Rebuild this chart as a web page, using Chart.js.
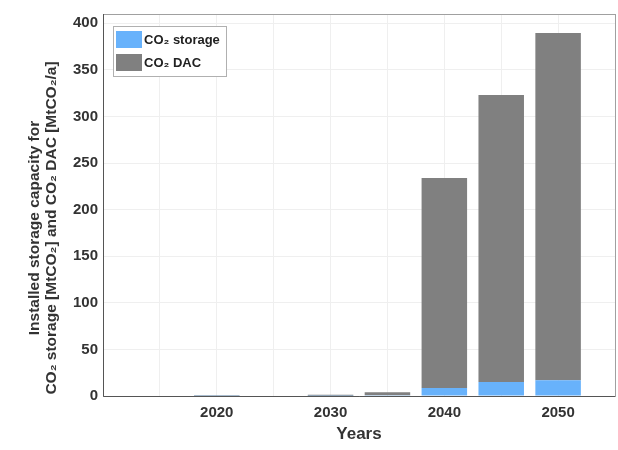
<!DOCTYPE html>
<html>
<head>
<meta charset="utf-8">
<script src="https://cdn.jsdelivr.net/npm/chart.js@4/dist/chart.umd.min.js"></script>
<style>
  html, body { margin: 0; padding: 0; background: #fff; }
  #wrap { width: 618px; height: 450px; }
</style>
</head>
<body>
<div id="wrap"><canvas id="dac-chart"></canvas></div>
<script>
// Values
const years = [2020, 2025, 2030, 2035, 2040, 2045, 2050];
const storage = [0.2, 0, 0.3, 0.8, 8.5, 15, 17];
const dac = [0.5, 0, 1, 3.2, 225.5, 308, 372.5];
const yTicks = [0, 50, 100, 150, 200, 250, 300, 350, 400];
const xLabels = [2020, 2030, 2040, 2050];
const yTitle = ['Installed storage capacity for', 'CO₂ storage [MtCO₂] and CO₂ DAC [MtCO₂/a]'];

const FONT = '"Liberation Sans", Arial, sans-serif';

// MATLAB-style box, legend inside the axes and the y title
const boxLegend = {
    id: 'boxLegend',
    afterDatasetsDraw(chart) {
        const { ctx, chartArea: a } = chart;
        ctx.save();
        ctx.strokeStyle = '#a0a0a0';
        ctx.lineWidth = 1;
        ctx.strokeRect(Math.round(a.left) + 0.5, Math.round(a.top) + 0.5,
            Math.round(a.right - a.left), Math.round(a.bottom - a.top));
        ctx.strokeStyle = '#555';
        ctx.beginPath();
        ctx.moveTo(Math.round(a.left) + 0.5, a.top);
        ctx.lineTo(Math.round(a.left) + 0.5, Math.round(a.bottom) + 0.5);
        ctx.lineTo(a.right, Math.round(a.bottom) + 0.5);
        ctx.stroke();

        // legend
        const lx = a.left + 10, ly = a.top + 12;
        ctx.fillStyle = '#fff';
        ctx.fillRect(lx, ly, 113, 50);
        ctx.strokeStyle = '#b0b0b0';
        ctx.strokeRect(lx + 0.5, ly + 0.5, 113, 50);
        ctx.font = 'bold 13px ' + FONT;
        ctx.textBaseline = 'middle';
        chart.data.datasets.forEach((ds, i) => {
            const y = ly + 5 + i * 23;
            ctx.fillStyle = ds.backgroundColor;
            ctx.fillRect(lx + 3, y, 26, 17);
            ctx.fillStyle = '#222';
            ctx.fillText(ds.label, lx + 31, y + 9);
        });

        // y axis title (two lines, centred a bit below the axis middle like the original)
        ctx.translate(35, 228);
        ctx.rotate(-Math.PI / 2);
        ctx.font = 'bold 15.5px ' + FONT;
        ctx.textAlign = 'center';
        ctx.fillStyle = '#333';
        yTitle.forEach((line, i) => ctx.fillText(line, 0, i * 17));
        ctx.restore();
    }
};

const ctx = document.getElementById('dac-chart').getContext('2d');
new Chart(ctx, {
    type: 'bar',
    data: {
        datasets: [
            {
                label: 'CO₂ storage',
                data: years.map((x, i) => ({ x, y: storage[i] })),
                backgroundColor: '#68b2fb'
            },
            {
                label: 'CO₂ DAC',
                data: years.map((x, i) => ({ x, y: dac[i] })),
                backgroundColor: '#808080'
            }
        ]
    },
    options: {
        responsive: true,
        maintainAspectRatio: false,
        animation: false,
        barPercentage: 0.8,
        categoryPercentage: 1.0,
        layout: { padding: { top: 11, right: 3, left: 0, bottom: 5 } },
        plugins: {
            legend: { display: false },
            tooltip: { enabled: false }
        },
        scales: {
            x: {
                type: 'linear',
                stacked: true,
                offset: false,
                min: 2010,
                max: 2055,
                grid: { color: '#efefef', drawTicks: false, offset: false },
                border: { display: false },
                ticks: {
                    stepSize: 5,
                    autoSkip: false,
                    maxRotation: 0,
                    padding: 8,
                    color: '#333',
                    font: { family: FONT, size: 15, weight: 'bold' },
                    callback: v => xLabels.includes(v) ? String(v) : ''
                },
                title: {
                    display: true,
                    text: 'Years',
                    color: '#333',
                    padding: { top: 2, bottom: 0 },
                    font: { family: FONT, size: 17, weight: 'bold' }
                },
                afterFit: s => {
                    s.height = 49;
                    s.paddingLeft = 0;
                    s.paddingRight = 0;
                }
            },
            y: {
                stacked: true,
                min: 0,
                max: 410,
                grid: { color: '#efefef', drawTicks: false },
                border: { display: false },
                ticks: {
                    stepSize: 50,
                    includeBounds: false,
                    padding: 5,
                    color: '#333',
                    font: { family: FONT, size: 15, weight: 'bold' },
                    callback: v => yTicks.includes(v) ? String(v) : ''
                },
                afterFit: s => { s.width = 103; }
            }
        }
    },
    plugins: [boxLegend]
});
</script>
</body>
</html>
